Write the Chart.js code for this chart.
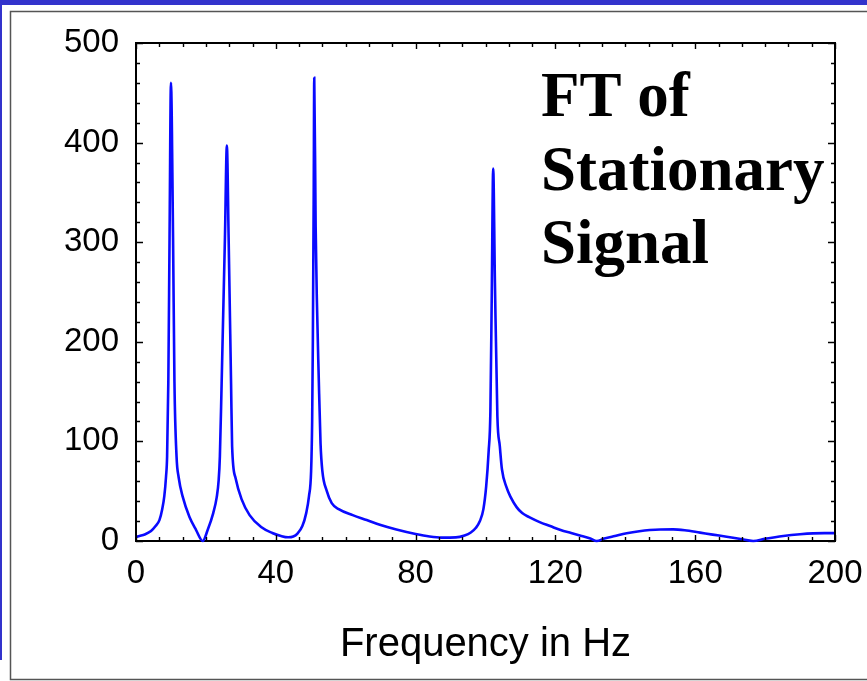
<!DOCTYPE html>
<html>
<head>
<meta charset="utf-8">
<title>FT of Stationary Signal</title>
<script src="https://cdn.jsdelivr.net/npm/chart.js@4/dist/chart.umd.min.js"></script>
<style>
  html, body { margin: 0; padding: 0; background: #ffffff; }
  #wrap { width: 867px; height: 681px; position: relative; }
  canvas { display: block; }
</style>
</head>
<body>
<div id="wrap"><canvas id="ft" width="867" height="681"></canvas></div>
<script>
// Magnitude spectrum of a stationary signal (components near 10, 25, 50 and 100 Hz)
const freqHz = [
  0, 1, 2.5, 4.3, 5.6, 6.7, 7.5, 8.1, 8.6, 8.9, 9.25, 9.6, 10.0, 10.6, 11.0, 11.6, 12.2, 13.4, 15.3, 17.2, 19.1,
  20.5, 22.1, 23.1, 23.65, 24.0, 24.5, 25.45, 26.0, 26.5, 27.2, 27.5, 28.5, 30.2, 32.5, 35.8, 39, 41.5, 43.5, 45, 46.2, 47.6, 48.7, 49.5, 50.1, 50.4, 50.6, 50.85, 51.0,
  51.4, 52.4, 52.8, 53.3, 54.6, 56, 58, 62, 66, 70, 74.5, 80, 84, 87.5, 91.5, 94, 95.8, 97.2, 98.4, 99.4, 100.2, 100.9, 101.4, 101.8, 102.2,
  102.7, 103.4, 104.1, 104.7, 106, 107.2, 108.9, 110.5, 112.5, 115.5, 118.5, 121.5, 124.5, 127.5, 130, 131.8,
  134, 137, 140.4, 144, 147, 150, 153.7, 157, 161.4, 165, 169, 173, 176.6, 180, 185.2, 190, 193.8, 197, 200
];
const amplitude = [
  4, 5, 6.5, 10, 15, 21, 32, 45, 65, 85, 160, 305, 460, 305, 160, 85, 64, 44, 24, 11, 0,
  11, 28, 44, 61, 85, 158, 305, 397, 305, 158, 95, 63, 42, 26, 14, 8, 5, 3.7, 4.5, 7.5, 15, 28, 45, 70, 120, 200, 350, 465,
  316, 148, 98, 71, 50, 38, 32, 26, 21, 16, 11.5, 7, 4.5, 3.4, 3.6, 5.5, 8.5, 13, 20, 32, 55, 90, 130, 250, 374,
  259, 125, 95, 72, 54, 44, 34, 28, 24, 19, 15, 11, 8, 5, 2.5, 0,
  2.5, 5, 7.7, 9.8, 11, 11.6, 11.7, 10.8, 8.4, 6.4, 4.3, 2, 0, 2.2, 5, 6.8, 7.7, 7.9, 7.9
];

const xTickLabels = [0, 40, 80, 120, 160, 200];
const yTickLabels = [0, 100, 200, 300, 400, 500];
const titleLines = ['FT of', 'Stationary', 'Signal'];
const xAxisTitle = 'Frequency in Hz';

const points = freqHz.map((f, i) => ({ x: f, y: amplitude[i] }));

const sansFont = '"Liberation Sans", Arial, Helvetica, sans-serif';
const serifFont = '"Liberation Serif", "Times New Roman", serif';

// Slide background: blue edge bars and the grey panel outline
const slideBackground = {
  id: 'slideBackground',
  beforeDraw(chart) {
    const ctx = chart.ctx;
    const W = chart.width, H = chart.height;
    ctx.save();
    ctx.fillStyle = '#ffffff';
    ctx.fillRect(0, 0, W, H);
    ctx.fillStyle = '#3333cc';
    ctx.fillRect(0, 0, W, 5);
    ctx.fillRect(0, 5, 2, 655);
    ctx.strokeStyle = '#555555';
    ctx.lineWidth = 1.5;
    ctx.beginPath();
    ctx.moveTo(W + 2, 11.5);
    ctx.lineTo(10.5, 11.5);
    ctx.lineTo(10.5, 679.5);
    ctx.lineTo(W + 2, 679.5);
    ctx.stroke();
    ctx.restore();
  }
};

// Closed frame with inward-pointing ticks on all four sides
const frameTicks = {
  id: 'frameTicks',
  afterDatasetsDraw(chart) {
    const { ctx, chartArea: a, scales } = chart;
    const xs = scales.x, ys = scales.y;
    ctx.save();
    ctx.strokeStyle = '#000000';
    ctx.lineWidth = 2;
    ctx.beginPath();
    ctx.moveTo(a.left, a.top);
    ctx.lineTo(a.right, a.top);
    ctx.lineTo(a.right, a.bottom);
    ctx.stroke();

    ctx.lineWidth = 1.4;
    ctx.beginPath();
    const xStep = (xTickLabels[1] - xTickLabels[0]) / 6;
    const nX = Math.round((xs.max - xs.min) / xStep);
    for (let i = 0; i <= nX; i++) {
      const px = Math.round(xs.getPixelForValue(xs.min + i * xStep)) + 0.5;
      const len = (i % 6 === 0) ? 6 : 4;
      ctx.moveTo(px, a.bottom); ctx.lineTo(px, a.bottom - len);
      ctx.moveTo(px, a.top); ctx.lineTo(px, a.top + len);
    }
    const yStep = (yTickLabels[1] - yTickLabels[0]) / 5;
    const nY = Math.round((ys.max - ys.min) / yStep);
    for (let i = 0; i <= nY; i++) {
      const py = Math.round(ys.getPixelForValue(ys.min + i * yStep)) + 0.5;
      const len = (i % 5 === 0) ? 7 : 4;
      ctx.moveTo(a.left, py); ctx.lineTo(a.left + len, py);
      ctx.moveTo(a.right, py); ctx.lineTo(a.right - len, py);
    }
    ctx.stroke();
    ctx.restore();
  },
  afterDraw(chart) {
    const ctx = chart.ctx;
    ctx.save();
    ctx.fillStyle = '#000000';
    ctx.font = 'bold 63px ' + serifFont;
    ctx.textAlign = 'left';
    ctx.textBaseline = 'alphabetic';
    const baselines = [116, 189.5, 263];
    titleLines.forEach((t, i) => ctx.fillText(t, 541, baselines[i]));
    ctx.restore();
  }
};

new Chart(document.getElementById('ft'), {
  type: 'line',
  data: {
    datasets: [{
      data: points,
      borderColor: '#0a0aff',
      borderWidth: 2.6,
      pointRadius: 0,
      fill: false,
      cubicInterpolationMode: 'monotone',
      clip: false
    }]
  },
  options: {
    responsive: false,
    animation: false,
    events: [],
    layout: { padding: { top: 43, right: 32, left: 0, bottom: 0 } },
    plugins: { legend: { display: false }, tooltip: { enabled: false } },
    scales: {
      x: {
        type: 'linear',
        min: 0,
        max: 200,
        afterBuildTicks(scale) { scale.ticks = xTickLabels.map(v => ({ value: v })); },
        afterFit(scale) {
          scale.height = 140;
          scale.paddingLeft = 0;
          scale.paddingRight = 0;
        },
        grid: { display: false, drawTicks: false },
        border: { display: true, color: '#000000', width: 2 },
        ticks: {
          padding: 13,
          color: '#000000',
          maxRotation: 0,
          font: { family: sansFont, size: 33 }
        },
        title: {
          display: true,
          text: xAxisTitle,
          color: '#000000',
          font: { family: sansFont, size: 40 },
          padding: { top: 0, bottom: 12 }
        }
      },
      y: {
        min: 0,
        max: 500,
        afterBuildTicks(scale) { scale.ticks = yTickLabels.map(v => ({ value: v })); },
        afterFit(scale) {
          scale.width = 136;
          scale.paddingTop = 0;
          scale.paddingBottom = 0;
        },
        grid: { display: false, drawTicks: false },
        border: { display: true, color: '#000000', width: 2 },
        ticks: {
          padding: 17,
          color: '#000000',
          font: { family: sansFont, size: 33 }
        }
      }
    }
  },
  plugins: [slideBackground, frameTicks]
});
</script>
</body>
</html>
